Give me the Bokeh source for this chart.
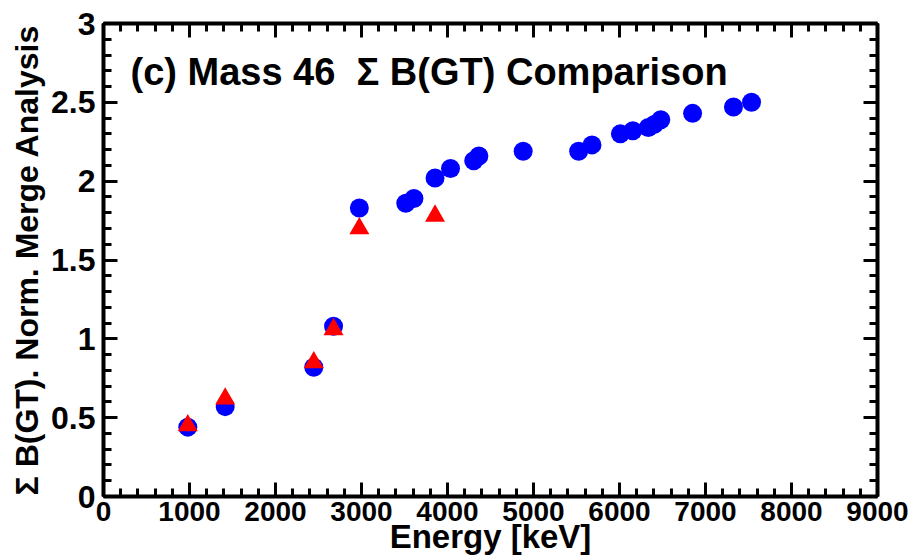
from bokeh.plotting import figure
from bokeh.models import (Range1d, LinearAxis, SingleIntervalTicker, Label,
                          CustomJSTickFormatter)
from bokeh.embed import file_html
from bokeh.resources import INLINE

# Summed B(GT) from the merge analysis (blue) and the comparison set (red)
merge_energy = [980, 1415, 2445, 2675, 2975, 3515, 3610, 3855, 4035, 4305, 4365,
                4880, 5525, 5680, 6010, 6155, 6335, 6405, 6480, 6850, 7325, 7535]
merge_sum_bgt = [0.44, 0.57, 0.82, 1.08, 1.83, 1.86, 1.89, 2.02, 2.08, 2.13, 2.16,
                 2.19, 2.19, 2.23, 2.30, 2.32, 2.34, 2.36, 2.39, 2.43, 2.47, 2.50]

ref_energy = [980, 1415, 2445, 2675, 2975, 3855]
ref_sum_bgt = [0.45, 0.62, 0.85, 1.06, 1.70, 1.78]

p = figure(width=915, height=558, output_backend="svg", toolbar_location=None,
           x_range=Range1d(0, 9000), y_range=Range1d(0, 3),
           min_border_left=103, min_border_right=38,
           min_border_top=23, min_border_bottom=62)
p.xgrid.visible = False
p.ygrid.visible = False
p.outline_line_color = None
p.background_fill_color = "white"
p.border_fill_color = "white"

BOLD = "bold"
SANS = "Liberation Sans"


def style_axis(ax, major, minor):
    ax.axis_line_width = 4
    ax.axis_line_color = "black"
    ax.major_tick_in = major
    ax.major_tick_out = 0
    ax.minor_tick_in = minor
    ax.minor_tick_out = 0
    ax.major_tick_line_width = 3
    ax.minor_tick_line_width = 3
    ax.major_tick_line_color = "black"
    ax.minor_tick_line_color = "black"


xb = p.xaxis[0]
xb.ticker = SingleIntervalTicker(interval=1000, num_minor_ticks=5)
style_axis(xb, 14, 8)
xb.major_label_text_font = SANS
xb.major_label_text_font_style = BOLD
xb.major_label_text_font_size = "28px"
xb.major_label_text_color = "black"
xb.major_label_standoff = 5
xb.axis_label = "Energy [keV]"
xb.axis_label_text_font = SANS
xb.axis_label_text_font_style = BOLD
xb.axis_label_text_font_size = "33px"
xb.axis_label_text_color = "black"
xb.axis_label_standoff = -6

yl = p.yaxis[0]
yl.ticker = SingleIntervalTicker(interval=0.5, num_minor_ticks=5)
style_axis(yl, 14, 8)
yl.major_label_text_font = SANS
yl.major_label_text_font_style = BOLD
yl.major_label_text_font_size = "32px"
yl.major_label_text_color = "black"
yl.major_label_standoff = 8
yl.axis_label = "\u03a3 B(GT). Norm. Merge Analysis"
yl.axis_label_text_font = SANS
yl.axis_label_text_font_style = BOLD
yl.axis_label_text_font_size = "32px"
yl.axis_label_text_color = "black"
yl.axis_label_standoff = 3

# mirrored frame axes carrying ticks only
blank = CustomJSTickFormatter(code="return ''")
xt = LinearAxis(ticker=SingleIntervalTicker(interval=1000, num_minor_ticks=5),
                formatter=blank)
style_axis(xt, 14, 8)
p.add_layout(xt, "above")
yr = LinearAxis(ticker=SingleIntervalTicker(interval=0.5, num_minor_ticks=5),
                formatter=blank)
style_axis(yr, 14, 8)
p.add_layout(yr, "right")

p.scatter(merge_energy, merge_sum_bgt, marker="circle", size=19,
          fill_color="#0000ff", line_color=None)
p.scatter(ref_energy, ref_sum_bgt, marker="triangle", size=20,
          fill_color="#ff0000", line_color=None)

p.add_layout(Label(x=314, y=2.69,
                   text="(c) Mass 46\u00a0\u00a0\u03a3 B(GT) Comparison",
                   text_font=SANS, text_font_style=BOLD, text_font_size="38px",
                   text_color="black", text_baseline="middle", text_align="left"))

open("out.html", "w").write(file_html(p, INLINE))
